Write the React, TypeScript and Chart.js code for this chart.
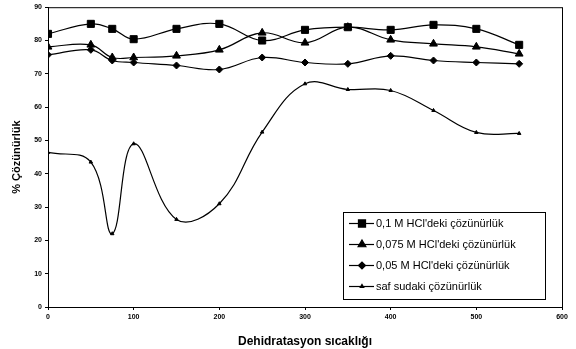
import React, { useEffect, useRef } from "react";
import { Chart, registerables } from "chart.js";
import { drawPoint } from "chart.js/helpers";
Chart.register(...registerables);

const temperatures = [0, 50, 75, 100, 150, 200, 250, 300, 350, 400, 450, 500, 550];
const hcl010 = [82, 85, 83.5, 80.4, 83.5, 85, 80, 83.2, 84, 83.2, 84.7, 83.5, 78.7];
const hcl0075 = [78.1, 78.7, 74.9, 74.9, 75.4, 77.2, 82.3, 79.3, 84, 80.2, 79, 78.1, 76];
const hcl005 = [75.7, 77.2, 74, 73.4, 72.5, 71.3, 74.9, 73.4, 73, 75.4, 74, 73.4, 73];
const pureWater = [46.4, 43.5, 22, 49, 26.3, 31, 52.5, 67, 65.3, 65, 59, 52.4, 52.1];

const seriesLabels = [
  "0,1 M HCl'deki çözünürlük",
  "0,075 M HCl'deki çözünürlük",
  "0,05 M HCl'deki çözünürlük",
  "saf sudaki çözünürlük",
];
const yTitle = "% Çözünürlük";
const xTitle = "Dehidratasyon sıcaklığı";

const FONT = "'Liberation Sans', Arial, sans-serif";

const frameAndLegend = {
  id: "frameAndLegend",
  afterDraw(chart: any) {
    const { ctx, chartArea } = chart;
    ctx.save();
    ctx.strokeStyle = "#000";
    ctx.lineWidth = 1;
    ctx.strokeRect(chartArea.left + 0.5, chartArea.top + 0.5, chartArea.right - chartArea.left, chartArea.bottom - chartArea.top);

    const bx = chartArea.right - 219;
    const by = chartArea.bottom - 95;
    const bw = 202;
    const bh = 87;
    ctx.fillStyle = "#fff";
    ctx.fillRect(bx, by, bw, bh);
    ctx.strokeRect(bx + 0.5, by + 0.5, bw, bh);
    ctx.font = `11px ${FONT}`;
    ctx.textBaseline = "middle";
    ctx.textAlign = "left";
    chart.data.datasets.forEach((ds: any, i: number) => {
      const y = by + 11 + 21 * i;
      ctx.strokeStyle = "#000";
      ctx.lineWidth = 1.2;
      ctx.beginPath();
      ctx.moveTo(bx + 6, y + 0.5);
      ctx.lineTo(bx + 31, y + 0.5);
      ctx.stroke();
      ctx.fillStyle = "#000";
      drawPoint(ctx, { pointStyle: ds.pointStyle, radius: ds.pointRadius, borderWidth: 1, rotation: 0 } as any, bx + 19, y + 0.5);
      ctx.fillStyle = "#000";
      ctx.fillText(ds.label, bx + 33, y + 1);
    });
    ctx.restore();
  },
};

function toPoints(vals: number[]) {
  return temperatures.map((t, i) => ({ x: t, y: vals[i] }));
}

export default function App() {
  const ref = useRef<HTMLCanvasElement>(null);
  useEffect(() => {
    document.body.style.margin = "0";
    Chart.defaults.font.family = FONT;
    const mk = (label: string, vals: number[], style: string, r: number) => ({
      label,
      data: toPoints(vals),
      borderColor: "#000",
      backgroundColor: "#000",
      pointBackgroundColor: "#000",
      pointBorderColor: "#000",
      borderWidth: 1.2,
      pointStyle: style,
      pointRadius: r,
      pointBorderWidth: 1,
      tension: 0.4,
    });
    const chart = new Chart(ref.current!, {
      type: "line",
      data: {
        datasets: [
          mk(seriesLabels[0], hcl010, "rect", 5),
          mk(seriesLabels[1], hcl0075, "triangle", 4.5),
          mk(seriesLabels[2], hcl005, "rectRot", 3.5),
          mk(seriesLabels[3], pureWater, "triangle", 2),
        ] as any,
      },
      options: {
        responsive: false,
        animation: false,
        layout: { padding: { left: 0, top: 6, right: 14, bottom: 0 } },
        plugins: { legend: { display: false }, tooltip: { enabled: false } },
        scales: {
          x: {
            type: "linear",
            min: 0,
            max: 600,
            ticks: { stepSize: 100, color: "#000", font: { size: 7, weight: "bold" }, padding: 3, maxRotation: 0 },
            grid: { display: true, drawOnChartArea: false, drawTicks: true, tickLength: 3, color: "#000" },
            border: { color: "#000", width: 1 },
            title: { display: true, text: xTitle, color: "#000", font: { size: 12, weight: "bold" }, padding: { top: 4, bottom: 0 } },
            afterFit: (s: any) => { s.height = 42; },
          },
          y: {
            min: 0,
            max: 90,
            ticks: { stepSize: 10, color: "#000", font: { size: 7, weight: "bold" }, padding: 3 },
            grid: { display: true, drawOnChartArea: false, drawTicks: true, tickLength: 3, color: "#000" },
            border: { color: "#000", width: 1 },
            title: { display: true, text: yTitle, color: "#000", font: { size: 11, weight: "bold" }, padding: { top: 10, bottom: 0 } },
            afterFit: (s: any) => { s.width = 48; },
          },
        },
      } as any,
      plugins: [frameAndLegend],
    });
    return () => chart.destroy();
  }, []);
  return (
    <div style={{ width: 576, height: 349, background: "#fff" }}>
      <canvas ref={ref} width={576} height={349} style={{ display: "block" }} />
    </div>
  );
}
